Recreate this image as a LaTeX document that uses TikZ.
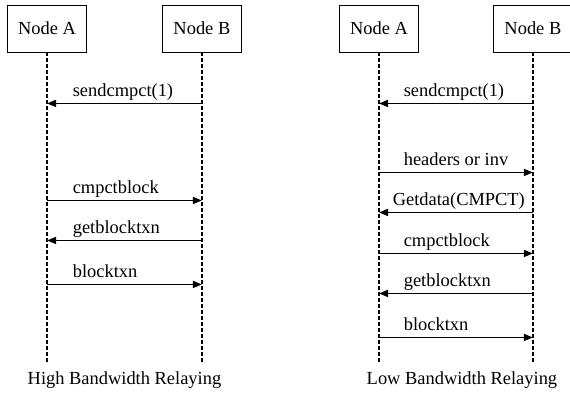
\documentclass[tikz,border=0pt]{standalone}
\usepackage{fontspec}
\setmainfont{Liberation Serif}
\usepackage{tikz}
\usetikzlibrary{positioning, calc, arrows.meta}
\tikzstyle{host} = [rectangle, minimum width=79bp, minimum height=47bp, text centered, draw=black, line width=0.9bp]
\tikzstyle{lifeline} = [dashed, dash pattern=on 4bp off 2bp, line width=1.5bp]
\tikzstyle{msg} = [-{Triangle[length=9bp,width=7bp]}, line width=1.6bp]
\tikzstyle{lbl} = [anchor=base west, inner sep=0pt, yshift=7bp]
\tikzstyle{every node}=[font=\fontsize{18.5}{20}\selectfont]

\begin{document}
\begin{tikzpicture}[x=1bp, y=1bp]
  \useasboundingbox (0,0) rectangle (570,399);
  %两组节点
  \node (a1) [host] at (47,370.5) {Node A};
  \node (b1) [host, right=75bp of a1] {Node B};
  \node (a2) [host] at (379,370.5) {Node A};
  \node (b2) [host, right=74bp of a2] {Node B};

  %生命线
  \coordinate (a1end) at ($(a1.south) + (0,-311)$);
  \coordinate (b1end) at ($(b1.south) + (0,-311)$);
  \coordinate (a2end) at ($(a2.south) + (0,-311)$);
  \coordinate (b2end) at ($(b2.south) + (0,-311)$);
  \draw [lifeline](a1) -- (a1end);
  \draw [lifeline](b1) -- (b1end);
  \draw [lifeline](a2) -- (a2end);
  \draw [lifeline](b2) -- (b2end);

  %High Bandwidth Relaying
  \draw [msg]($(b1.south) + (0,-51)$) -- ($(a1.south) + (0,-51)$) node[lbl, xshift=25bp] {sendcmpct(1)};
  \draw [msg]($(a1.south) + (0,-148)$) node[lbl, xshift=25bp] {cmpctblock} -- ($(b1.south) + (0,-148)$);
  \draw [msg]($(b1.south) + (0,-188)$) -- ($(a1.south) + (0,-188)$) node[lbl, xshift=25bp] {getblocktxn};
  \draw [msg]($(a1.south) + (0,-232)$) node[lbl, xshift=25bp] {blocktxn} -- ($(b1.south) + (0,-232)$);

  %Low Bandwidth Relaying
  \draw [msg]($(b2.south) + (0,-51)$) -- ($(a2.south) + (0,-51)$) node[lbl, xshift=24bp] {sendcmpct(1)};
  \draw [msg]($(a2.south) + (0,-120)$) node[lbl, xshift=24bp] {headers or inv} -- ($(b2.south) + (0,-120)$);
  \draw [msg]($(b2.south) + (0,-160)$) -- ($(a2.south) + (0,-160)$) node[lbl, xshift=13bp] {Getdata(CMPCT)};
  \draw [msg]($(a2.south) + (0,-201)$) node[lbl, xshift=24bp] {cmpctblock} -- ($(b2.south) + (0,-201)$);
  \draw [msg]($(b2.south) + (0,-241)$) -- ($(a2.south) + (0,-241)$) node[lbl, xshift=24bp] {getblocktxn};
  \draw [msg]($(a2.south) + (0,-285)$) node[lbl, xshift=24bp] {blocktxn} -- ($(b2.south) + (0,-285)$);

  %标题
  \node (cap1) [anchor=base] at ($(a1end)!0.5!(b1end) + (0,-21)$) {High Bandwidth Relaying};
  \node (cap2) [anchor=base] at ($(a2end)!0.5!(b2end) + (6,-21)$) {Low Bandwidth Relaying};
\end{tikzpicture}
\end{document}
